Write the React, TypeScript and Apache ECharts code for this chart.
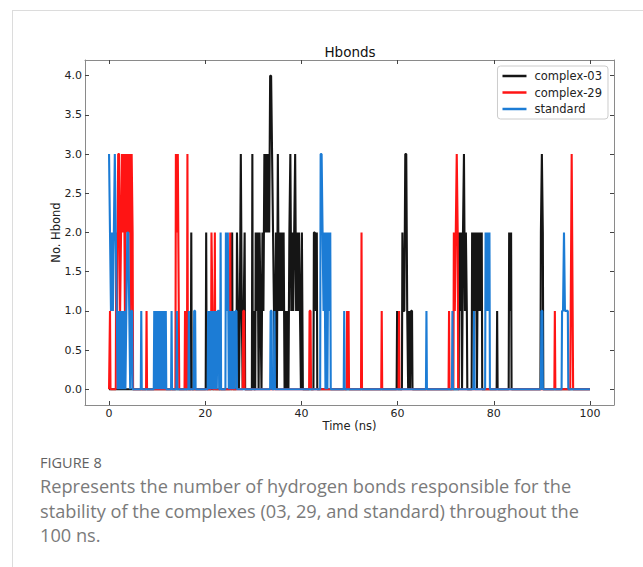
import React, { useEffect, useRef } from "react";
import * as echarts from "echarts";

// ---- data: [time (ns), number of H-bonds] for frames with non-zero values ----
const complex03: [number, number][] = [
  [17.1, 2], [20.2, 2], [25.6, 2],
  [26.6, 2], [26.8, 1], [27.0, 0], [27.2, 1], [27.4, 3], [27.6, 1], [27.8, 0], [28.0, 1], [28.2, 2],
  [29.8, 3], [30.1, 1],
  [30.5, 2], [30.7, 1], [30.9, 2], [31.1, 0], [31.3, 2], [31.5, 1], [31.7, 0], [31.9, 2], [32.1, 1],
  [32.3, 3], [32.5, 2], [32.7, 3], [32.9, 2], [33.1, 3], [33.3, 2], [33.5, 4], [33.7, 4], [33.9, 3],
  [34.1, 2], [34.3, 1], [34.5, 0], [34.7, 2], [34.9, 0], [35.1, 3], [35.3, 1], [35.5, 2], [35.7, 1],
  [35.9, 2], [36.1, 1], [36.3, 2], [36.5, 0], [36.7, 1], [36.9, 0], [37.1, 1], [37.3, 0], [37.5, 2],
  [37.7, 3], [37.9, 1], [38.1, 2], [38.3, 1], [38.5, 2], [38.7, 3], [38.9, 1], [39.1, 2], [39.3, 1],
  [39.5, 2], [39.7, 1], [39.9, 0], [40.1, 2], [40.3, 0],
  [42.6, 2], [42.8, 2], [43.0, 1], [43.2, 2],
  [59.9, 1],
  [61.0, 2], [61.2, 1], [61.4, 1], [61.6, 3], [61.8, 3], [62.0, 1], [62.2, 0], [62.4, 1], [62.6, 0],
  [62.8, 1], [63.0, 1],
  [72.8, 2], [73.0, 1], [73.2, 2], [73.4, 0], [73.6, 2], [73.8, 3], [74.0, 1], [74.2, 2], [74.4, 1],
  [75.5, 2], [75.7, 1], [75.9, 2], [76.1, 1], [76.3, 2], [76.5, 0], [76.7, 2], [76.9, 1], [77.1, 2],
  [77.3, 1], [77.5, 2],
  [80.7, 1],
  [83.2, 2], [83.4, 1], [83.6, 2],
  [89.8, 2], [90.0, 3], [90.2, 2],
];

const complex29: [number, number][] = [
  [0.2, 1],
  [1.5, 2], [1.7, 1], [1.9, 3], [2.1, 3], [2.3, 1], [2.5, 2], [2.7, 3], [2.9, 2], [3.1, 3], [3.3, 1],
  [3.5, 3], [3.7, 2], [3.9, 3], [4.1, 2], [4.3, 3], [4.5, 1], [4.7, 3], [4.9, 2],
  [7.8, 1],
  [13.9, 3], [14.1, 2], [14.3, 3], [14.5, 1],
  [15.8, 1], [16.3, 3],
  [21.3, 2], [21.5, 1], [22.0, 2],
  [25.2, 2],
  [27.9, 1], [28.1, 1],
  [41.7, 1], [41.9, 1],
  [49.5, 1], [49.8, 1],
  [52.5, 2],
  [56.7, 1],
  [60.3, 1],
  [70.7, 1],
  [71.7, 2], [71.9, 1], [72.1, 2], [72.3, 3], [72.5, 2],
  [92.7, 1],
  [96.0, 1], [96.2, 3], [96.4, 1],
];

const standard: [number, number][] = [
  [0.0, 3], [0.2, 2], [0.4, 1], [0.6, 2], [0.8, 1], [1.0, 2], [1.2, 3], [1.4, 2], [1.6, 1], [1.8, 0],
  [2.0, 1], [2.2, 0], [2.4, 1], [2.6, 0], [2.8, 1], [3.0, 0], [3.2, 1], [3.4, 0], [3.6, 1], [3.8, 2],
  [4.0, 2], [4.2, 1], [4.4, 0], [4.6, 1], [4.8, 1],
  [6.7, 1],
  [9.4, 1], [9.6, 0], [9.8, 1], [10.0, 0], [10.2, 1], [10.4, 0], [10.6, 1], [10.8, 0], [11.0, 1],
  [11.2, 0], [11.4, 1], [11.6, 0], [11.8, 1],
  [13.0, 1], [14.1, 1],
  [16.6, 1], [17.7, 1], [17.9, 1],
  [20.6, 1], [20.8, 0], [21.0, 1], [21.2, 0], [21.4, 1], [21.6, 0], [21.8, 1], [22.0, 0], [22.2, 1],
  [22.4, 0], [22.6, 1], [22.8, 1],
  [23.2, 2],
  [24.3, 2], [24.5, 1], [24.7, 2], [24.9, 0], [25.1, 1], [25.3, 0], [25.5, 1], [25.7, 0], [25.9, 1],
  [26.1, 0], [26.3, 1], [26.5, 1],
  [33.6, 1], [33.8, 1], [34.4, 1],
  [44.0, 3], [44.2, 3], [44.4, 2], [44.6, 1], [44.8, 2], [45.0, 0], [45.2, 2], [45.4, 0], [45.6, 2],
  [45.8, 1], [46.0, 2],
  [48.9, 1],
  [66.0, 1],
  [71.4, 1],
  [75.9, 1],
  [78.3, 2], [78.5, 1], [78.7, 2], [78.9, 1], [79.1, 2],
  [89.9, 1], [90.1, 1],
  [94.2, 1], [94.4, 1], [94.6, 2], [94.8, 1], [95.0, 1], [95.2, 1], [95.4, 1],
];

const seriesNames = ["complex-03", "complex-29", "standard"];
const xTickValues = [0, 20, 40, 60, 80, 100];
const yTickValues = [0, 0.5, 1, 1.5, 2, 2.5, 3, 3.5, 4];
const xRange = [-5, 105];
const yRange = [-0.2, 4.2];
const captionTitle = "FIGURE 8";
const captionLines = [
  "Represents the number of hydrogen bonds responsible for the",
  "stability of the complexes (03, 29, and standard) throughout the",
  "100 ns.",
];

// expand the non-zero frames into a trace that returns to zero between events
function buildTrace(pairs: [number, number][]): [number, number][] {
  const pts: [number, number][] = [];
  const r = (v: number) => Math.round(v * 100) / 100;
  if (pairs.length === 0 || pairs[0][0] > 0) pts.push([0, 0]);
  for (let i = 0; i < pairs.length; i++) {
    const [t, v] = pairs[i];
    const prev = pairs[i - 1];
    const next = pairs[i + 1];
    if ((!prev || t - prev[0] > 0.25) && t - 0.1 >= 0) pts.push([r(t - 0.1), 0]);
    pts.push([t, v]);
    if (!next || next[0] - t > 0.25) pts.push([r(t + 0.1), 0]);
  }
  pts.push([100, 0]);
  return pts;
}

const FONT = "DejaVu Sans";
const SPINE = "#8a8a8a";

export default function App() {
  const ref = useRef<HTMLDivElement>(null);
  useEffect(() => {
    if (!ref.current) return;
    const chart = echarts.init(ref.current, undefined, { renderer: "svg" });
    const colors = ["#151515", "#ff1414", "#1c7cd5"];
    const datasets = [complex03, complex29, standard];
    const tick = (vals: number[]) => ({
      show: true,
      inside: true,
      length: 4,
      customValues: vals,
      lineStyle: { color: "#444", width: 1 },
    });
    const xBase = {
      type: "value" as const,
      min: xRange[0],
      max: xRange[1],
      splitLine: { show: false },
      axisLine: { show: true, onZero: false, lineStyle: { color: SPINE, width: 1 } },
      axisTick: tick(xTickValues),
    };
    const yBase = {
      type: "value" as const,
      min: yRange[0],
      max: yRange[1],
      splitLine: { show: false },
      axisLine: { show: true, onZero: false, lineStyle: { color: SPINE, width: 1 } },
      axisTick: tick(yTickValues),
    };
    chart.setOption({
      animation: false,
      backgroundColor: "#ffffff",
      grid: { left: 85, right: 29, top: 60, bottom: 162, containLabel: false },
      legend: {
        orient: "vertical",
        top: 66,
        right: 35,
        data: seriesNames,
        icon: "rect",
        itemWidth: 24,
        itemHeight: 2.5,
        itemGap: 4.5,
        padding: [4, 6, 4, 5],
        backgroundColor: "#ffffff",
        borderColor: "#cccccc",
        borderWidth: 1,
        borderRadius: 3,
        textStyle: { fontFamily: FONT, fontSize: 11.5, color: "#222", padding: [0, 0, 0, 3] },
      },
      xAxis: [
        {
          ...xBase,
          position: "bottom",
          name: "Time (ns)",
          nameLocation: "middle",
          nameGap: 15,
          nameMoveOverlap: false,
          nameTextStyle: { fontFamily: FONT, fontSize: 11.5, color: "#222" },
          axisLabel: {
            margin: 3,
            customValues: xTickValues,
            fontFamily: FONT,
            fontSize: 11,
            color: "#222",
          },
        },
        { ...xBase, position: "top", axisLabel: { show: false } },
      ],
      yAxis: [
        {
          ...yBase,
          position: "left",
          name: "No. Hbond",
          nameLocation: "middle",
          nameGap: 23,
          nameMoveOverlap: false,
          nameTextStyle: { fontFamily: FONT, fontSize: 11.5, color: "#222" },
          axisLabel: {
            margin: 3,
            customValues: yTickValues,
            fontFamily: FONT,
            fontSize: 11,
            color: "#222",
            formatter: (v: number) => v.toFixed(1),
          },
        },
        { ...yBase, position: "right", axisLabel: { show: false } },
      ],
      series: datasets.map((d, i) => ({
        name: seriesNames[i],
        type: "line",
        xAxisIndex: 0,
        yAxisIndex: 0,
        data: buildTrace(d),
        symbol: "none",
        showSymbol: false,
        clip: false,
        color: colors[i],
        lineStyle: { color: colors[i], width: 2.1 },
        emphasis: { disabled: true },
        z: 2 + i,
      })),
      graphic: [
        {
          type: "line",
          shape: { x1: 12, y1: 10.5, x2: 643, y2: 10.5 },
          style: { stroke: "#dcdcdc", lineWidth: 1 },
        },
        {
          type: "line",
          shape: { x1: 12.5, y1: 10, x2: 12.5, y2: 567 },
          style: { stroke: "#dcdcdc", lineWidth: 1 },
        },
        {
          type: "text",
          x: 350,
          y: 52,
          style: {
            text: "Hbonds",
            fontFamily: FONT,
            fontSize: 13.5,
            fill: "#111",
            align: "center",
            verticalAlign: "middle",
          },
        },
        {
          type: "text",
          x: 40,
          y: 462,
          style: {
            text: captionTitle,
            fontFamily: "Open Sans",
            fontSize: 14.5,
            fill: "#626262",
            align: "left",
            verticalAlign: "middle",
          },
        },
        ...captionLines.map((line, i) => ({
          type: "text",
          x: 40,
          y: 486 + i * 24.5,
          style: {
            text: line,
            fontFamily: "Open Sans",
            fontSize: 18.2,
            fill: "#7a7a7a",
            align: "left",
            verticalAlign: "middle",
          },
        })),
      ],
    });
    return () => chart.dispose();
  }, []);
  return (
    <div
      ref={ref}
      style={{ position: "fixed", left: 0, top: 0, width: 643, height: 567, background: "#fff" }}
    />
  );
}
